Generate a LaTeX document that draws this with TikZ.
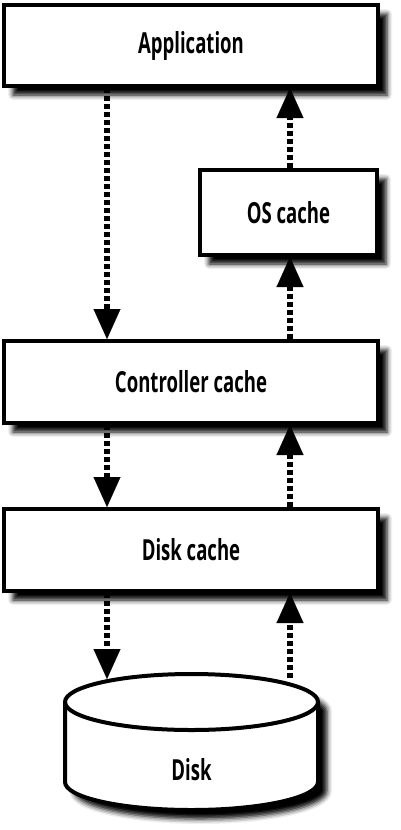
\documentclass[tikz,border=0pt]{standalone}
\usepackage{fontspec}
\setmainfont[FakeStretch=0.64]{Open Sans}
\usetikzlibrary{arrows.meta,shadows.blur}
\begin{document}
\begin{tikzpicture}[x=1pt,y=-1pt,
  shd/.style={blur shadow={shadow xshift=9pt,shadow yshift=-9pt,shadow blur radius=5pt,shadow opacity=100}},
  box/.style={draw=black,line width=4pt,fill=white,shd,inner sep=0pt,font=\fontsize{29}{32}\selectfont\bfseries},
  flow/.style={line width=6pt,dash pattern=on 5pt off 3pt,opacity=1,-{Triangle[length=30pt,width=27pt,line width=0.1pt,fill=black,color=black]}},
  lbl/.style={inner sep=0pt,font=\fontsize{29}{32}\selectfont\bfseries}]
\useasboundingbox (0,0) rectangle (400,830);
\node[box,minimum width=374pt,minimum height=81pt] (app) at (191,45.5) {Application};
\node[box,minimum width=177pt,minimum height=85pt] (os) at (288.5,212.5) {OS cache};
\node[box,minimum width=374pt,minimum height=82pt] (ctrl) at (191,382) {Controller cache};
\node[box,minimum width=374pt,minimum height=82pt] (dc) at (191,550) {Disk cache};
% disk cylinder
\draw[line width=4pt,fill=white,shd] (65,702) -- (65,782) arc[start angle=180,end angle=360,x radius=126.5,y radius=-28] -- (318,702) arc[start angle=0,end angle=180,x radius=126.5,y radius=-28] -- cycle;
\draw[line width=4pt] (65,702) arc[start angle=180,end angle=360,x radius=126.5,y radius=-28];
\node[lbl] (disk) at (191.5,770) {Disk};
\coordinate (dtl) at (107,679);
\coordinate (dtr) at (290,678);
% connectors
\draw[flow] (app.south -| 107,0) -- (ctrl.north -| 107,0);
\draw[flow] (os.north -| 290,0) -- (app.south -| 290,0);
\draw[flow] (ctrl.north -| 290,0) -- (os.south -| 290,0);
\draw[flow] (ctrl.south -| 107,0) -- (dc.north -| 107,0);
\draw[flow] (dc.north -| 290,0) -- (ctrl.south -| 290,0);
\draw[flow] (dc.south -| 107,0) -- (dtl);
\draw[flow] (dtr) -- (dc.south -| 290,0);
\end{tikzpicture}
\end{document}
